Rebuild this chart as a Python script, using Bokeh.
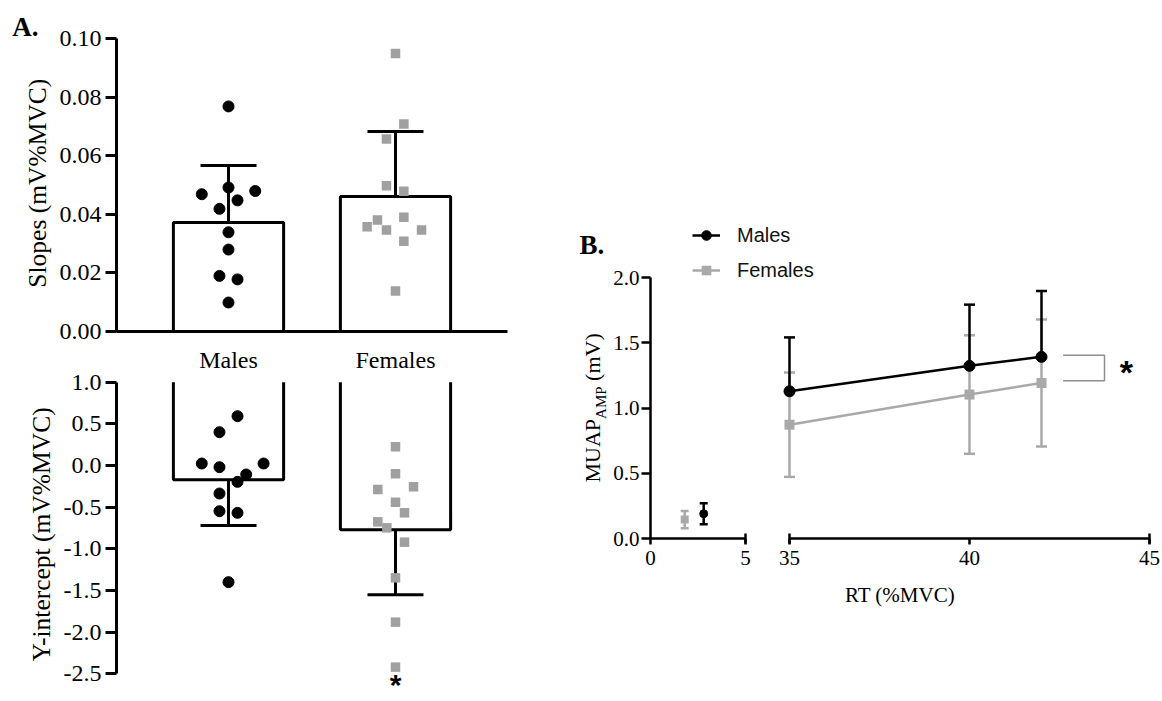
from math import pi
from bokeh.plotting import figure
from bokeh.models import (Range1d, FixedTicker, Whisker, TeeHead, ColumnDataSource,
                          Legend, LegendItem)
from bokeh.layouts import row
from bokeh.core.properties import value
from bokeh.embed import file_html
from bokeh.resources import INLINE

# ---------------- data ----------------
groups = ["Males", "Females"]

male_slopes = [0.0769, 0.0492, 0.0480, 0.0469, 0.0448, 0.0419, 0.0339, 0.0280, 0.0190, 0.0178, 0.0099]
female_slopes = [0.0950, 0.0709, 0.0658, 0.0498, 0.0479, 0.0390, 0.0381, 0.0358, 0.0347, 0.0347, 0.0308, 0.0138]
slope_mean = [0.0372, 0.0461]
slope_sd = [0.0195, 0.0222]

male_intercepts = [0.592, 0.40, 0.024, -0.02, 0.024, -0.108, -0.196, -0.336, -0.548, -0.568, -1.40]
female_intercepts = [0.224, -0.10, -0.288, -0.256, -0.44, -0.568, -0.676, -0.748, -0.92, -1.348, -1.88, -2.42]
intercept_mean = [-0.17, -0.77]
intercept_sd = [0.55, 0.78]

slope_ticks = [0.0, 0.02, 0.04, 0.06, 0.08, 0.10]
slope_tick_labels = ["0.00", "0.02", "0.04", "0.06", "0.08", "0.10"]
intercept_ticks = [1.0, 0.5, 0.0, -0.5, -1.0, -1.5, -2.0, -2.5]
intercept_tick_labels = ["1.0", "0.5", "0.0", "-0.5", "-1.0", "-1.5", "-2.0", "-2.5"]

rt_male = [2.8, 35, 40, 42]
amp_male = [0.19, 1.128, 1.323, 1.392]
amp_male_sd = [0.08, 0.413, 0.469, 0.505]
rt_female = [1.8, 35, 40, 42]
amp_female = [0.145, 0.872, 1.103, 1.192]
amp_female_sd = [0.066, 0.40, 0.454, 0.487]

amp_ticks = [0.0, 0.5, 1.0, 1.5, 2.0]
amp_tick_labels = ["0.0", "0.5", "1.0", "1.5", "2.0"]
rt_ticks_low = [0, 5]
rt_ticks_high = [35, 40, 45]

# horizontal scatter offsets of the individual points (layout only)
male_slope_jitter = [0, 0, 0.16, -0.16, 0.054, -0.054, 0, 0, -0.054, 0.054, 0]
female_slope_jitter = [0, 0.05, -0.054, -0.054, 0.05, 0.05, -0.108, -0.17, -0.054, 0.156, 0.05, 0]
male_int_jitter = [0.054, -0.054, -0.16, -0.054, 0.21, 0.106, 0.054, -0.054, -0.054, 0.054, 0]
female_int_jitter = [0, 0, -0.106, 0.108, 0, 0.054, -0.106, -0.052, 0.054, 0, 0, 0]

# ---------------- styling / layout (page pixels) ----------------
W, H = 1160, 700
SERIF = "Liberation Serif"
SANS = "Liberation Sans"
GRAY_A = "#a0a0a0"
GRAY_B = "#a9a9a9"
cat_x = list(range(1, len(groups) + 1))
BAR_W = 0.66


def span(v0, p0, v1, p1, lo, hi):
    k = (v1 - v0) / (p1 - p0)
    return Range1d(v0 + (lo - p0) * k, v0 + (hi - p0) * k)


def make_fig(xr, yr, left, top, right, bottom, xloc="below", yloc="left"):
    p = figure(width=W, height=H, x_range=xr, y_range=yr,
               min_border_left=left, min_border_right=W - right,
               min_border_top=top, min_border_bottom=H - bottom,
               x_axis_location=xloc, y_axis_location=yloc,
               toolbar_location=None, output_backend="svg",
               border_fill_color=None, background_fill_color=None,
               outline_line_color=None)
    p.frame_align = False
    p.grid.visible = False
    return p


def style_axis(ax, size, lw, tick_out, standoff):
    ax.axis_line_width = lw
    ax.axis_line_color = "black"
    ax.major_tick_line_width = lw
    ax.major_tick_line_color = "black"
    ax.major_tick_out = tick_out
    ax.major_tick_in = 0
    ax.minor_tick_line_color = None
    ax.major_label_text_font = SERIF
    ax.major_label_text_font_size = size
    ax.major_label_text_color = "black"
    ax.major_label_standoff = standoff
    ax.axis_label_text_font = SERIF
    ax.axis_label_text_font_style = "normal"
    ax.axis_label_text_color = "black"


# ================= Panel A, top: slopes =================
pA1 = make_fig(span(1, 228, 2, 395, 116, 528), span(0, 331, 0.1, 38.3, 331, 28),
               116, 28, 528, 331)
xa = pA1.xaxis[0]
style_axis(xa, "24px", 3, 0, 15)
xa.ticker = FixedTicker(ticks=cat_x)
xa.major_label_overrides = dict(zip(cat_x, groups))
xa.bounds = (pA1.x_range.start, 2.67)
ya = pA1.yaxis[0]
style_axis(ya, "24px", 3, 11, 4)
ya.ticker = FixedTicker(ticks=slope_ticks)
ya.major_label_overrides = dict(zip(slope_ticks, slope_tick_labels))
ya.bounds = (slope_ticks[0], slope_ticks[-1])
ya.axis_label = "Slopes  (mV%MVC)"
ya.axis_label_text_font_size = "25.5px"
ya.axis_label_standoff = 5

pA1.add_layout(Whisker(
    source=ColumnDataSource(dict(base=cat_x, lower=slope_mean,
                                 upper=[m + s for m, s in zip(slope_mean, slope_sd)])),
    base="base", lower="lower", upper="upper", dimension="height",
    line_width=3, line_color="black", lower_head=None,
    upper_head=TeeHead(size=56, line_width=3, line_color="black"), level="underlay"))
pA1.vbar(x=cat_x, top=slope_mean, bottom=0, width=BAR_W, fill_color="white",
         line_color="black", line_width=3)
pA1.scatter([cat_x[0] + j for j in male_slope_jitter], male_slopes, marker="circle",
            size=11, color="black")
pA1.scatter([cat_x[1] + j for j in female_slope_jitter], female_slopes, marker="square",
            size=9.5, fill_color=GRAY_A, line_color=None)

# ================= Panel A, bottom: intercepts =================
pA2 = make_fig(span(1, 228, 2, 395, 116, 528), span(1.0, 381.7, -2.5, 673.3, H, 368),
               116, 368, 528, H, xloc=None)
yb = pA2.yaxis[0]
style_axis(yb, "24px", 3, 11, 4)
yb.ticker = FixedTicker(ticks=intercept_ticks)
yb.major_label_overrides = dict(zip(intercept_ticks, intercept_tick_labels))
yb.bounds = (min(intercept_ticks), max(intercept_ticks))
yb.axis_label = "Y-intercept (mV%MVC)"
yb.axis_label_text_font_size = "25.5px"
yb.axis_label_standoff = 5

base = max(intercept_ticks)
pA2.add_layout(Whisker(
    source=ColumnDataSource(dict(base=cat_x, upper=intercept_mean,
                                 lower=[m - s for m, s in zip(intercept_mean, intercept_sd)])),
    base="base", lower="lower", upper="upper", dimension="height",
    line_width=3, line_color="black", upper_head=None,
    lower_head=TeeHead(size=56, line_width=3, line_color="black"), level="underlay"))
pA2.multi_line(xs=[[c - BAR_W / 2, c - BAR_W / 2, c + BAR_W / 2, c + BAR_W / 2] for c in cat_x],
               ys=[[base, m, m, base] for m in intercept_mean],
               line_color="black", line_width=3)
pA2.scatter([cat_x[0] + j for j in male_int_jitter], male_intercepts, marker="circle",
            size=11, color="black")
pA2.scatter([cat_x[1] + j for j in female_int_jitter], female_intercepts, marker="square",
            size=9.5, fill_color=GRAY_A, line_color=None)
pA2.text(x=[cat_x[1]], y=[pA2.y_range.start], text=["*"],
         text_font=value(SANS), text_font_style="bold", text_font_size=value("30px"),
         text_align="center", text_baseline="bottom", text_color="black")

# ================= Panel B =================
lo_m = [i for i, r in enumerate(rt_male) if r <= rt_ticks_low[-1]]
hi_m = [i for i, r in enumerate(rt_male) if r >= rt_ticks_high[0]]
lo_f = [i for i, r in enumerate(rt_female) if r <= rt_ticks_low[-1]]
hi_f = [i for i, r in enumerate(rt_female) if r >= rt_ticks_high[0]]


def pick(arr, idx):
    return [arr[i] for i in idx]


# left part of the broken axis (0-5)
pB1 = make_fig(span(0, 650, 5, 745, 650, 756), span(0, 538, 2, 277, 538, 263),
               650, 263, 756, 538)
xb1 = pB1.xaxis[0]
style_axis(xb1, "21px", 2.5, 6, 6)
xb1.ticker = FixedTicker(ticks=rt_ticks_low, minor_ticks=rt_ticks_low[-1:])
xb1.minor_tick_line_color = "black"
xb1.minor_tick_line_width = 2.5
xb1.minor_tick_in = 5
xb1.minor_tick_out = 5
xb1.bounds = (rt_ticks_low[0], rt_ticks_low[-1])
yb1 = pB1.yaxis[0]
style_axis(yb1, "21px", 2.5, 9, 2)
yb1.ticker = FixedTicker(ticks=amp_ticks)
yb1.major_label_overrides = dict(zip(amp_ticks, amp_tick_labels))
yb1.bounds = (amp_ticks[0], amp_ticks[-1])

for rt, amp, sd, col in ((rt_female, amp_female, amp_female_sd, GRAY_B),
                         (rt_male, amp_male, amp_male_sd, "black")):
    idx = lo_f if col == GRAY_B else lo_m
    pB1.add_layout(Whisker(
        source=ColumnDataSource(dict(base=pick(rt, idx),
                                     lower=[amp[i] - sd[i] for i in idx],
                                     upper=[amp[i] + sd[i] for i in idx])),
        base="base", lower="lower", upper="upper", dimension="height",
        line_width=2.5, line_color=col,
        upper_head=TeeHead(size=8, line_width=2.5, line_color=col),
        lower_head=TeeHead(size=8, line_width=2.5, line_color=col), level="underlay"))
pB1.scatter(pick(rt_female, lo_f), pick(amp_female, lo_f), marker="square", size=8,
            fill_color=GRAY_B, line_color=None)
pB1.scatter(pick(rt_male, lo_m), pick(amp_male, lo_m), marker="circle", size=8,
            color="black")

# right part of the broken axis (35-45)
pB2 = make_fig(span(35, 789, 45, 1149, 692, 1156), span(0, 538, 2, 277, 538, 223),
               692, 223, 1156, 538, yloc=None)
xb2 = pB2.xaxis[0]
style_axis(xb2, "21px", 2.5, 6, 6)
xb2.ticker = FixedTicker(ticks=rt_ticks_high, minor_ticks=[rt_ticks_high[0], rt_ticks_high[-1]])
xb2.minor_tick_line_color = "black"
xb2.minor_tick_line_width = 2.5
xb2.minor_tick_in = 5
xb2.minor_tick_out = 5
xb2.bounds = (rt_ticks_high[0], rt_ticks_high[-1])

pB2.add_layout(Whisker(
    source=ColumnDataSource(dict(base=pick(rt_female, hi_f),
                                 lower=[amp_female[i] - amp_female_sd[i] for i in hi_f],
                                 upper=[amp_female[i] + amp_female_sd[i] for i in hi_f])),
    base="base", lower="lower", upper="upper", dimension="height",
    line_width=2.5, line_color=GRAY_B,
    upper_head=TeeHead(size=11, line_width=2.5, line_color=GRAY_B),
    lower_head=TeeHead(size=11, line_width=2.5, line_color=GRAY_B), level="underlay"))
pB2.add_layout(Whisker(
    source=ColumnDataSource(dict(base=pick(rt_male, hi_m),
                                 lower=pick(amp_male, hi_m),
                                 upper=[amp_male[i] + amp_male_sd[i] for i in hi_m])),
    base="base", lower="lower", upper="upper", dimension="height",
    line_width=2.5, line_color="black", lower_head=None,
    upper_head=TeeHead(size=11, line_width=2.5, line_color="black"), level="underlay"))
f_line = pB2.line(pick(rt_female, hi_f), pick(amp_female, hi_f), line_color=GRAY_B, line_width=2.5)
f_pts = pB2.scatter(pick(rt_female, hi_f), pick(amp_female, hi_f), marker="square", size=10,
                    fill_color=GRAY_B, line_color=None)
m_line = pB2.line(pick(rt_male, hi_m), pick(amp_male, hi_m), line_color="black", line_width=2.5)
m_pts = pB2.scatter(pick(rt_male, hi_m), pick(amp_male, hi_m), marker="circle", size=11,
                    color="black")

# significance bracket between the last male and female means
xm, ym, yf = rt_male[hi_m[-1]], amp_male[hi_m[-1]], amp_female[hi_f[-1]]
pB2.line([xm + 0.6, xm + 1.75, xm + 1.75, xm + 0.6], [ym + 0.012, ym + 0.012, yf + 0.016, yf + 0.016],
         line_color="#8c8c8c", line_width=1.5)
pB2.text(x=[xm + 2.36], y=[(ym + yf) / 2 - 0.015], text=["*"],
         text_font=value(SANS), text_font_style="bold", text_font_size=value("34px"),
         text_align="center", text_baseline="middle", text_color="black")

legend = Legend(items=[LegendItem(label="Males", renderers=[m_line, m_pts]),
                       LegendItem(label="Females", renderers=[f_line, f_pts])],
                location="top_left", margin=0, padding=0, spacing=11,
                glyph_width=28, glyph_height=24, label_height=24, label_standoff=17,
                label_text_font=SANS, label_text_font_size="20px", label_text_color="#111111",
                border_line_color=None, background_fill_alpha=0)
pB2.add_layout(legend)

# ================= free texts (panel letters, B axis titles) =================
pT = make_fig(Range1d(0, W), Range1d(0, H), 0, 0, W, H, xloc=None, yloc=None)
pT.text(x=[11.7, 579], y=[H - 26, H - 244], text=["A.", "B."], text_font=value(SERIF),
        text_font_style="bold", text_font_size=value("27px"), text_align="left",
        text_baseline="alphabetic", text_color="black")
pT.text(x=[899.5], y=[H - 594], text=["RT (%MVC)"], text_font=value(SERIF),
        text_font_size=value("21px"), text_align="center", text_baseline="middle",
        text_color="black")
pT.text(x=[592, 592], y=[H - 482, H - 380.4], text=["MUAP", "(mV)"], angle=pi / 2,
        text_font=value(SERIF), text_font_size=value("22px"), text_align="left",
        text_baseline="middle", text_color="black")
pT.text(x=[600], y=[H - 418.4], text=["AMP"], angle=pi / 2,
        text_font=value(SERIF), text_font_size=value("15px"), text_align="left",
        text_baseline="middle", text_color="black")

children = [pA1, pA2, pB1, pB2, pT]
for c in children[1:]:
    c.margin = (0, 0, 0, -W)
layout = row(children)

open("out.html", "w").write(file_html(layout, INLINE, title="chart"))
